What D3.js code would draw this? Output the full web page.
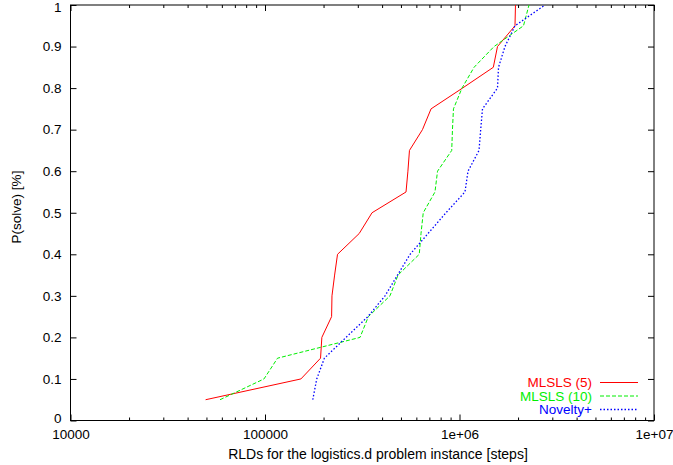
<!DOCTYPE html>
<html>
<head>
<meta charset="utf-8">
<script src="https://cdn.jsdelivr.net/npm/d3@7"></script>
<style>
  body { margin: 0; background: #fff; }
  text { font-family: "Liberation Sans", Arial, sans-serif; }
</style>
</head>
<body>
<div id="chart"></div>
<script>
// P(solve) levels shared by all three run-length distributions
const probs = [0.05, 0.1, 0.15, 0.2, 0.25, 0.3, 0.35, 0.4, 0.45, 0.5,
               0.55, 0.6, 0.65, 0.7, 0.75, 0.8, 0.85, 0.9, 0.95, 1.0];

// steps needed for each level
const mlsls5 = [49500, 153000, 193000, 196000, 220000, 221000, 228000, 236000, 305000, 355000,
                531000, 543000, 553000, 645000, 714000, 1036000, 1492000, 1568000, 1929000, 1940000];
const mlsls10 = [58700, 98800, 116000, 308000, 340000, 439000, 483000, 621000, 634000, 651000,
                 748000, 771000, 912000, 920000, 931000, 1030000, 1188000, 1505000, 2133000, 2277000];
const novelty = [176000, 184500, 202000, 261000, 338000, 414000, 480000, 557000, 689000, 852000,
                 1067000, 1106000, 1260000, 1285000, 1313000, 1568000, 1587000, 1713000, 1929000, 2751000];

const seriesNames = ["MLSLS (5)", "MLSLS (10)", "Novelty+"];
const seriesColors = ["#ff0000", "#00ee00", "#0000ff"];
const seriesDash = [null, "4,2", "1.5,2"];
const seriesWidth = [1, 1, 1.3];

const xMajor = [1e4, 1e5, 1e6, 1e7];
const xMajorLabels = ["10000", "100000", "1e+06", "1e+07"];
const yTicks = [0, 0.1, 0.2, 0.3, 0.4, 0.5, 0.6, 0.7, 0.8, 0.9, 1];

const W = 673, H = 465;
const margin = {left: 70.5, right: 654, top: 5, bottom: 420.5};

const svg = d3.select("#chart").append("svg")
    .attr("width", W).attr("height", H);

const x = d3.scaleLog().domain([1e4, 1e7]).range([margin.left, margin.right]);
const y = d3.scaleLinear().domain([0, 1]).range([margin.bottom, margin.top]);

// minor ticks 2..9 for each decade
let xMinor = [];
[1e4, 1e5, 1e6].forEach(function(d) {
    for (let k = 2; k <= 9; k++) xMinor.push(d * k);
});

// bottom + top axes (ticks point inward, like gnuplot)
svg.append("g")
    .attr("transform", `translate(0,${margin.bottom})`)
    .call(d3.axisBottom(x).tickValues(xMajor).tickSizeInner(-6).tickSizeOuter(0)
        .tickPadding(8.5).tickFormat((d, i) => xMajorLabels[i]))
    .call(g => g.select(".domain").remove())
    .selectAll("text").style("font-size", "13.5px").attr("fill", "#000");

svg.append("g")
    .attr("transform", `translate(0,${margin.bottom})`)
    .call(d3.axisBottom(x).tickValues(xMinor).tickSizeInner(-3).tickSizeOuter(0).tickFormat(""))
    .call(g => g.select(".domain").remove());

svg.append("g")
    .attr("transform", `translate(0,${margin.top})`)
    .call(d3.axisTop(x).tickValues(xMajor).tickSizeInner(-6).tickSizeOuter(0).tickFormat(""))
    .call(g => g.select(".domain").remove());

svg.append("g")
    .attr("transform", `translate(0,${margin.top})`)
    .call(d3.axisTop(x).tickValues(xMinor).tickSizeInner(-3).tickSizeOuter(0).tickFormat(""))
    .call(g => g.select(".domain").remove());

// left + right axes
const yAx = svg.append("g")
    .attr("transform", `translate(${margin.left},0)`)
    .call(d3.axisLeft(y).tickValues(yTicks).tickSizeInner(-6).tickSizeOuter(0)
        .tickPadding(9).tickFormat(d3.format("")))
    .call(g => g.select(".domain").remove());
yAx.selectAll("text").style("font-size", "13.5px").attr("fill", "#000");
// keep the end labels clear of the page edge and the x labels
yAx.selectAll("text").filter(d => d === 1).attr("dy", "0.45em");
yAx.selectAll("text").filter(d => d === 0).attr("dy", "0.18em");

svg.append("g")
    .attr("transform", `translate(${margin.right},0)`)
    .call(d3.axisRight(y).tickValues(yTicks).tickSizeInner(-6).tickSizeOuter(0).tickFormat(""))
    .call(g => g.select(".domain").remove());

// border
svg.append("rect")
    .attr("x", margin.left).attr("y", margin.top)
    .attr("width", margin.right - margin.left).attr("height", margin.bottom - margin.top)
    .attr("fill", "none").attr("stroke", "#000").attr("stroke-width", 1);

// the three curves
const allSeries = [mlsls5, mlsls10, novelty];
const line = d3.line()
    .x(d => x(d[0]))
    .y(d => y(d[1]));

allSeries.forEach(function(vals, i) {
    const pts = vals.map((v, j) => [v, probs[j]]);
    svg.append("path")
        .datum(pts)
        .attr("d", line)
        .attr("fill", "none")
        .attr("stroke", seriesColors[i])
        .attr("stroke-width", seriesWidth[i])
        .attr("stroke-dasharray", seriesDash[i]);
});

// legend
seriesNames.forEach(function(name, i) {
    const ly = 382.5 + i * 13.5;
    svg.append("text")
        .attr("x", 592).attr("y", ly)
        .attr("dy", "0.35em")
        .attr("text-anchor", "end")
        .style("font-size", "13.5px")
        .attr("fill", seriesColors[i])
        .text(name);
    svg.append("line")
        .attr("x1", 600).attr("x2", 638)
        .attr("y1", ly).attr("y2", ly)
        .attr("stroke", seriesColors[i])
        .attr("stroke-width", seriesWidth[i])
        .attr("stroke-dasharray", seriesDash[i]);
});

// axis titles
svg.append("text")
    .attr("x", 378).attr("y", 459)
    .attr("text-anchor", "middle")
    .style("font-size", "14px")
    .text("RLDs for the logistics.d problem instance [steps]");

svg.append("text")
    .attr("transform", "translate(21,207) rotate(-90)")
    .attr("text-anchor", "middle")
    .style("font-size", "13.5px")
    .text("P(solve) [%]");
</script>
</body>
</html>
